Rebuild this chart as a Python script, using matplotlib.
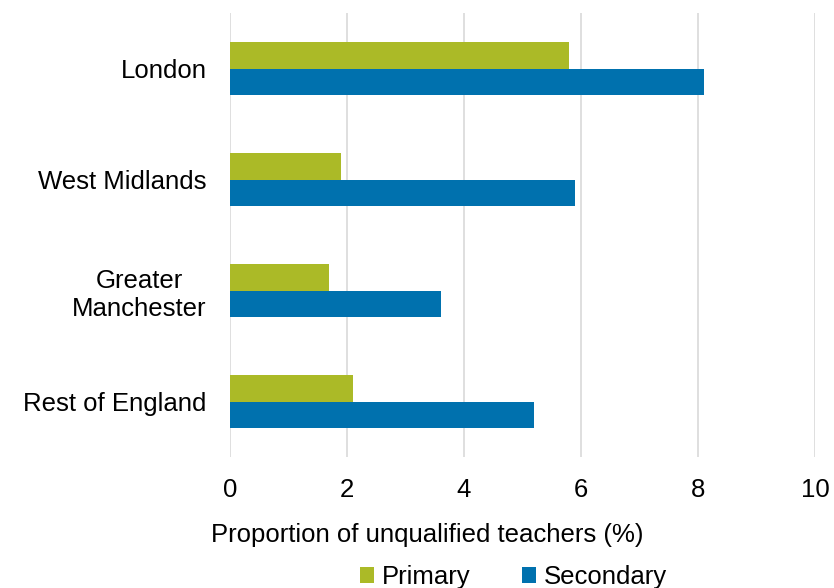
import matplotlib.pyplot as plt
import numpy as np

plt.rcParams['font.family'] = ['Liberation Sans', 'DejaVu Sans']

# Data
regions = ['London', 'West Midlands', 'Greater\nManchester', 'Rest of England']
primary = [5.8, 1.9, 1.7, 2.1]
secondary = [8.1, 5.9, 3.6, 5.2]
xticks = [0, 2, 4, 6, 8, 10]

green = '#abba27'
blue = '#0071ae'
fs = 18.5

fig = plt.figure(figsize=(8.34, 5.88), dpi=100)
ax = fig.add_axes([230 / 834, 1 - 457 / 588, 585 / 834, 444 / 588])

y = np.arange(len(regions))
h = 0.243
ax.barh(y - h / 2, primary, height=h, color=green, label='Primary', zorder=3)
ax.barh(y + h / 2, secondary, height=h, color=blue, label='Secondary', zorder=3)

ax.set_xlim(0, 10)
ax.set_ylim(len(regions) - 0.5, -0.5)
ax.set_xticks(xticks)
ax.set_yticks(y)
ax.set_yticklabels(regions, multialignment='center')
ax.tick_params(axis='y', length=0, pad=17, labelsize=fs)
ax.tick_params(axis='x', length=0, pad=15, labelsize=fs)
ax.grid(axis='x', color='#d9d9d9', linewidth=1.2, zorder=0)
for s in ax.spines.values():
    s.set_visible(False)

ax.set_xlabel('Proportion of unqualified teachers (%)', fontsize=fs)
ax.xaxis.set_label_coords(0.337, -0.148)
ax.legend(loc='center', bbox_to_anchor=(0.484, -0.27), ncol=2, frameon=False,
          fontsize=fs, handlelength=0.55, handleheight=0.55, handletextpad=0.3,
          columnspacing=2.0, borderpad=0)

fig.savefig('out.png', dpi=100)
